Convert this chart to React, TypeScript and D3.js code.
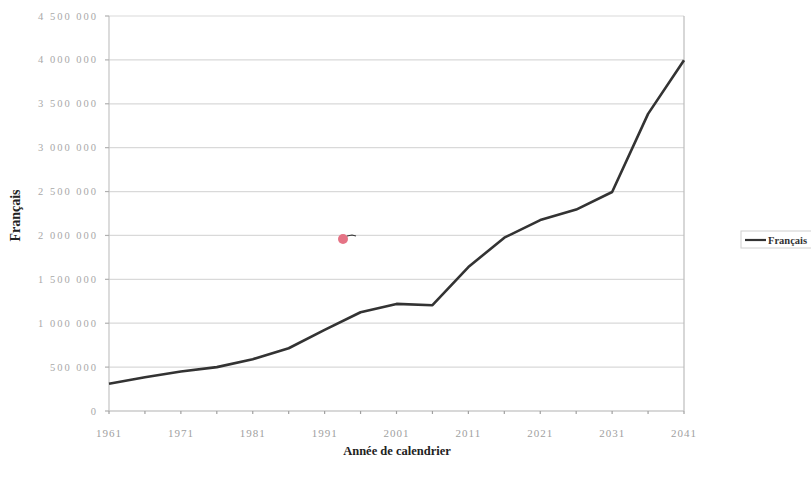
import React from "react";
import * as d3 from "d3";

const years = [1961, 1966, 1971, 1976, 1981, 1986, 1991, 1996, 2001, 2006, 2011, 2016, 2021, 2026, 2031, 2036, 2041];
const francais = [310000, 385000, 450000, 500000, 590000, 715000, 925000, 1125000, 1220000, 1205000, 1640000, 1975000, 2175000, 2295000, 2495000, 3385000, 3995000];
const xTickLabels = [1961, 1971, 1981, 1991, 2001, 2011, 2021, 2031, 2041];
const yTicks = [0, 500000, 1000000, 1500000, 2000000, 2500000, 3000000, 3500000, 4000000, 4500000];
const seriesName = "Français";
const xTitle = "Année de calendrier";
const yTitle = "Français";

const W = 811;
const H = 483;
const left = 109;
const right = 684;
const top = 16;
const bottom = 411;

const fmt = (v: number) => d3.format(",")(v).replace(/,/g, " ");

export default function App() {
  const x = d3.scaleLinear().domain([1961, 2041]).range([left, right]);
  const y = d3.scaleLinear().domain([0, 4500000]).range([bottom, top]);
  const line = d3
    .line<number>()
    .x((_, i) => x(years[i]))
    .y((d) => y(d));
  const serif = "'Liberation Serif', 'DejaVu Serif', serif";
  return (
    <svg
      width={W}
      height={H}
      style={{ position: "absolute", left: 0, top: 0, background: "#fff" }}
      fontFamily={serif}
    >
      <rect x={0} y={0} width={W} height={H} fill="#fff" />
      {yTicks.map((t) => (
        <line key={"g" + t} x1={left} x2={right} y1={y(t)} y2={y(t)} stroke="#d9d9d9" strokeWidth={1.2} />
      ))}
      <line x1={right} x2={right} y1={top} y2={bottom} stroke="#bdbdbd" strokeWidth={1.2} />
      <line x1={left} x2={left} y1={top} y2={bottom} stroke="#c4c4c4" strokeWidth={1.2} />
      {yTicks.map((t) => (
        <line key={"yt" + t} x1={left - 4} x2={left} y1={y(t)} y2={y(t)} stroke="#b0b0b0" strokeWidth={1.2} />
      ))}
      {yTicks.map((t) => (
        <text
          key={"yl" + t}
          x={98}
          y={y(t) + 3.5}
          textAnchor="end"
          fontSize={10.5}
          letterSpacing={2}
          fill="#a8a8a8"
        >
          {fmt(t)}
        </text>
      ))}
      <line x1={left} x2={right} y1={bottom} y2={bottom} stroke="#c4c4c4" strokeWidth={1.2} />
      {years.map((yr) => (
        <line key={"xt" + yr} x1={x(yr)} x2={x(yr)} y1={bottom} y2={bottom + 3} stroke="#a0a0a0" strokeWidth={1.2} />
      ))}
      {xTickLabels.map((yr) => (
        <text key={"xl" + yr} x={x(yr)} y={437} textAnchor="middle" fontSize={11} letterSpacing={1} fill="#a0a0a0">
          {yr}
        </text>
      ))}
      <path d={line(francais) || ""} fill="none" stroke="#333" strokeWidth={2.6} strokeLinejoin="round" />
      <circle cx={343} cy={239} r={5} fill="#e57385" />
      <path d="M347,236 L352,235 L356,236" stroke="#333" strokeWidth={1.2} fill="none" />
      <text x={397} y={455} textAnchor="middle" fontSize={12.5} fontWeight="bold" fill="#222">
        {xTitle}
      </text>
      <text
        transform={`translate(20,${(top + bottom) / 2 + 2}) rotate(-90)`}
        textAnchor="middle"
        fontSize={14}
        fontWeight="bold"
        fill="#222"
      >
        {yTitle}
      </text>
      <rect x={741} y={231} width={90} height={17} fill="#fff" stroke="#d0d0d0" strokeWidth={1} />
      <line x1={745} x2={766} y1={240} y2={240} stroke="#333" strokeWidth={2.2} />
      <text x={768} y={244} fontSize={10.5} fontWeight="bold" fill="#333">
        {seriesName}
      </text>
    </svg>
  );
}
